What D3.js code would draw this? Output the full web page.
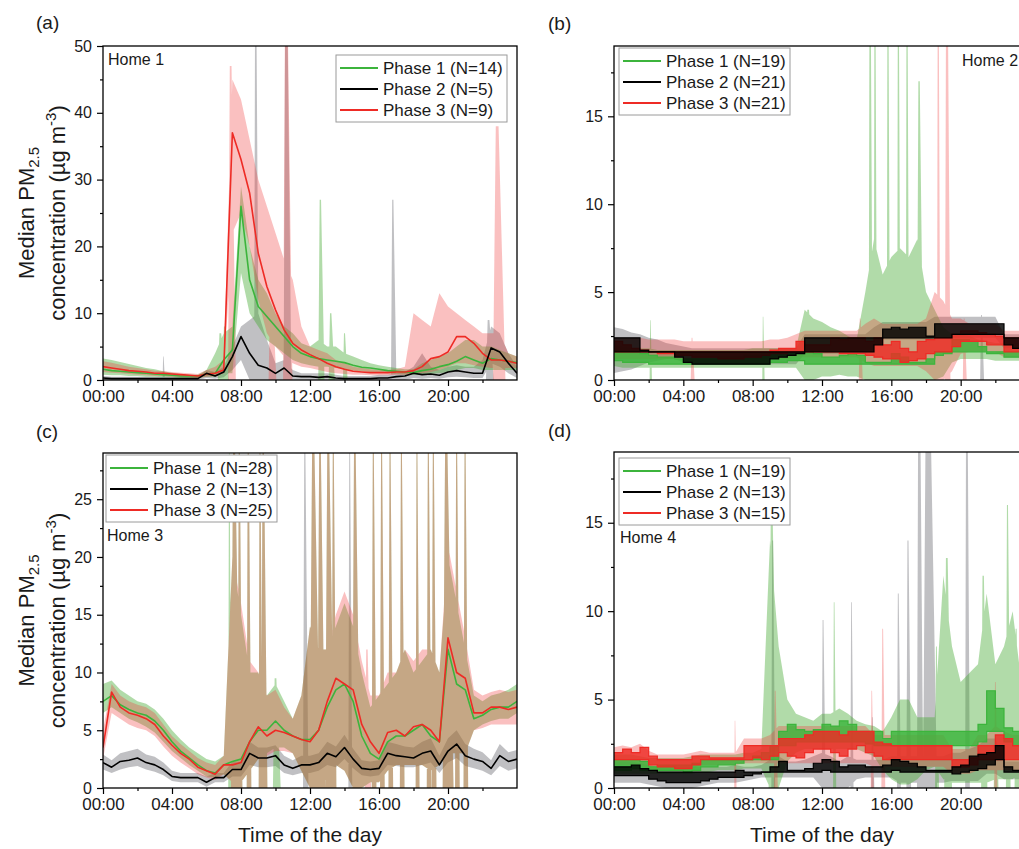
<!DOCTYPE html>
<html>
<head>
<meta charset="utf-8">
<script src="https://cdn.jsdelivr.net/npm/d3@7"></script>
<style>
  html, body { margin: 0; padding: 0; background: #fff; }
  svg { display: block; }
  text { font-family: "Liberation Sans", Arial, sans-serif; }
</style>
</head>
<body>
<svg id="chart" width="1019" height="849"></svg>
<script>
// ---------------- DATA ----------------
const HOURS = [0,0.5,1,1.5,2,2.5,3,3.5,4,4.5,5,5.5,6,6.5,7,7.5,8,8.5,9,9.5,10,10.5,11,11.5,12,12.5,13,13.5,14,14.5,15,15.5,16,16.5,17,17.5,18,18.5,19,19.5,20,20.5,21,21.5,22,22.5,23,23.5,24];
const X_TICKS = [0,4,8,12,16,20];
const X_TICK_LABELS = ["00:00","04:00","08:00","12:00","16:00","20:00"];
const X_MINOR = [2,6,10,14,18,22];

const A_YTICKS = [0,10,20,30,40,50];
const A_YMINOR = [5,15,25,35,45];
const B_YTICKS = [0,5,10,15];
const B_YMINOR = [2.5,7.5,12.5,17.5];
const C_YTICKS = [0,5,10,15,20,25];
const C_YMINOR = [2.5,7.5,12.5,17.5,22.5,27.5];
const D_YTICKS = [0,5,10,15];
const D_YMINOR = [2.5,7.5,12.5,17.5];

const A_LEGEND = ["Phase 1 (N=14)","Phase 2 (N=5)","Phase 3 (N=9)"];
const B_LEGEND = ["Phase 1 (N=19)","Phase 2 (N=21)","Phase 3 (N=21)"];
const C_LEGEND = ["Phase 1 (N=28)","Phase 2 (N=13)","Phase 3 (N=25)"];
const D_LEGEND = ["Phase 1 (N=19)","Phase 2 (N=13)","Phase 3 (N=15)"];

// ----- Home 1 (a): median lines + bands -----
const a_g_med = [1.6,1.4,1.3,1.2,1.1,1.0,0.9,0.8,0.7,0.6,0.6,0.6,
  0.9,1.0,3.0,4.5,26,15,11,9.5,8,6.5,5,4,
  3.5,3.2,3.0,2.8,2.6,2.2,1.9,1.8,1.6,1.4,1.3,1.2,
  1.1,1.4,1.6,2.0,2.3,2.8,3.5,3.0,2.5,3.2,3.0,2.8,2.6];
const a_gb_lo = [0.8,0.7,0.7,0.6,0.6,0.5,0.5,0.4,0.4,0.3,0.3,0.3,
  0.5,0.5,1.0,1.0,16,10,8,6,5,4,3,2.5,
  2.2,2.0,2.0,1.8,1.6,1.4,1.3,1.2,1.1,1.0,0.9,0.8,
  0.8,0.8,0.9,1.0,1.2,1.5,1.8,1.8,1.5,1.5,1.5,1.5,1.5];
const a_gb_hi = [3.2,3.0,2.7,2.4,2.1,1.8,1.6,1.3,1.1,0.9,0.8,0.8,
  1.5,4,7,8,29,20,15,13,10,8,7,5.5,
  5,6,5,5,4,3.5,3,2.5,2.2,2,1.8,1.6,
  1.6,2.5,3,3.5,4,5,6,6,5,5,4.5,4,3.5];
const a_r_med = [2.0,1.8,1.6,1.4,1.3,1.2,1.0,1.0,0.9,0.8,0.7,0.6,
  0.9,1.0,1.5,37,33,28,19,14,10.5,7.5,5.5,4.5,
  3.8,3.2,2.5,2.0,1.6,1.3,1.2,1.1,1.1,1.1,1.2,1.2,
  1.4,2.0,3.2,3.5,4.2,6.5,6.5,5.5,4.0,3.0,3.0,2.8,2.5];
const a_rb_lo = [1.2,1.1,1.0,0.9,0.8,0.7,0.6,0.6,0.5,0.5,0.4,0.3,
  0.5,0.6,1.0,22,25,20,12,7,5,3.5,2.5,2,
  1.8,1.5,1.2,1.0,0.9,0.8,0.8,0.7,0.7,0.7,0.8,0.8,
  0.9,1.0,1.2,1.5,2.0,2.5,2.5,2.2,2.0,1.8,1.8,1.8,1.8];
const a_rb_hi = [2.8,2.6,2.3,2.0,1.8,1.6,1.4,1.3,1.2,1.1,1.0,0.9,
  1.5,2.0,3.0,45,42,36,30,26,22,18,15,8,
  5,4.5,4,3,2.5,2,1.8,1.6,1.5,1.5,1.6,2,
  10,9,8,13,11,10,9,8,7,7,7,4,3.5];
const a_k_med = [0.3,0.2,0.2,0.2,0.2,0.2,0.2,0.2,0.2,0.2,0.2,0.2,
  1.0,0.6,1.2,3.5,6.5,4,2.2,1.8,1.0,1.8,0.6,0.5,
  0.5,0.4,0.5,0.3,0.2,0.2,0.2,0.2,0.3,0.3,0.5,0.6,
  1.0,0.8,0.9,0.7,1.2,1.4,1.2,1.0,1.0,4.8,4.2,2.5,1.0];
const a_kb_lo = [0,0,0,0,0,0,0,0,0,0,0,0,
  0.3,0.2,0.4,1.5,3,0,0,0,0,0,0,0,
  0,0,0,0,0,0,0,0,0,0,0,0,
  0.3,0.2,0.3,0.2,0.4,0.5,0.4,0.3,0.3,2.5,2,1,0.3];
const a_kb_hi = [0.6,0.5,0.5,0.5,0.5,0.5,0.5,0.5,0.5,0.5,0.5,0.5,
  1.5,1.2,2,5,8,9,10,6,2.5,3,1.5,1,
  1,1,1,0.8,0.6,0.6,0.6,0.6,0.8,0.8,1,1.2,
  2,4,2,1.5,2,2.2,2,2,3,8,7,4,2];
// spikes: [phase, hour, peak, half-width in hours]
const a_spikes = [["k",8.85,60,0.06],["k",10.62,60,0.1],["r",10.62,60,0.12],["g",12.6,27,0.08],
  ["g",13.2,10,0.08],["g",6.8,7,0.1],["k",16.8,27,0.07],["r",22.85,38,0.16],["k",22.35,9,0.1],
  ["r",9.75,14,0.1],["g",14.0,7,0.06],["k",3.5,3.5,0.03],["r",7.4,47,0.1],["g",7.05,8,0.08]];

// ----- Home 2 (b): median ranges + bands -----
const b_k_lo = [1.6,1.6,1.6,1.6,1.6,1.6,1.6,1.3,1.0,0.9,0.9,0.9,
  0.9,0.9,0.9,0.9,0.9,0.9,1.2,1.3,1.4,1.5,1.6,1.6,
  1.6,1.6,1.6,1.6,1.6,1.6,2.0,2.4,2.4,2.4,2.4,2.4,
  2.4,2.4,2.4,2.6,2.6,2.6,2.6,2.6,2.6,2.0,1.8,1.8,1.8];
const b_k_hi = [2.4,2.4,2.4,1.7,1.6,1.6,1.6,1.6,1.6,1.6,1.6,1.6,
  1.6,1.6,1.6,1.6,1.6,1.6,1.6,1.6,1.6,1.6,2.4,2.4,
  2.4,2.4,2.4,2.4,2.4,2.4,2.4,2.9,3.0,2.9,3.0,3.0,
  2.5,3.2,3.2,3.2,3.2,3.2,3.2,3.2,3.2,2.4,2.4,2.4,2.4];
const b_g_lo = [1.1,1.0,1.0,1.0,0.9,0.9,0.9,0.9,0.9,0.9,0.9,0.9,
  0.9,0.9,0.9,0.9,0.9,0.9,1.0,1.0,1.1,1.1,0.9,0.9,
  0.9,0.9,0.9,0.9,0.9,0.9,0.9,0.9,0.9,0.9,0.9,0.9,
  0.9,1.4,1.5,1.6,1.6,1.6,1.6,1.5,1.5,1.3,1.3,1.3,1.3];
const b_g_hi = [1.6,1.6,1.6,1.5,1.4,1.3,1.3,1.2,1.2,1.2,1.2,1.2,
  1.3,1.3,1.3,1.4,1.4,1.5,1.6,1.6,1.6,1.6,1.6,1.5,
  1.3,1.3,1.4,1.5,1.4,1.0,1.0,1.0,1.5,1.3,1.0,1.0,
  1.2,1.6,1.6,2.3,2.3,2.2,1.9,1.6,1.6,1.6,1.6,1.6,1.6];
const b_r_lo = [1.6,1.6,1.6,1.6,1.6,1.5,1.5,1.4,1.4,1.3,1.3,1.3,
  1.2,1.2,1.2,1.3,1.3,1.4,1.5,1.5,1.6,1.6,1.6,1.6,
  1.6,1.6,1.5,1.5,1.5,1.4,1.3,1.2,1.2,1.0,1.1,1.2,
  1.5,1.6,1.6,1.9,2.2,2.2,2.2,2.0,2.0,1.6,1.6,1.6,1.6];
const b_r_hi = [2.2,2.0,1.8,1.7,1.6,1.6,1.6,1.6,1.6,1.6,1.6,1.6,
  1.6,1.6,1.6,1.6,1.6,1.6,1.7,1.8,1.8,2.2,2.0,2.0,
  2.0,2.4,2.3,2.4,2.4,2.2,2.4,2.0,2.2,1.8,1.6,2.2,
  2.3,2.4,2.4,2.6,2.8,2.8,2.7,2.6,2.5,2.4,2.4,2.3,2.3];
const b_kb_lo = [0.4,0.5,0.6,0.8,1.0,1.1,1.2,1.2,1.0,0.9,0.9,0.9,
  0.9,0.9,0.9,0.9,0.9,0.9,0.9,0.9,0.9,0.9,1.5,1.5,
  1.5,1.5,1.5,1.5,1.5,1.5,2.0,2.3,2.3,2.3,2.3,2.3,
  2.3,2.4,2.4,2.4,2.4,2.4,2.4,2.4,2.4,1.8,1.8,1.8,1.8];
const b_kb_hi = [3.0,2.9,2.7,2.6,2.4,2.3,2.1,2.0,1.9,1.8,1.8,1.8,
  1.8,1.8,1.8,1.8,1.8,1.8,1.8,1.8,1.8,1.8,2.6,2.6,
  2.6,2.6,2.6,2.6,2.6,2.6,3.0,3.3,3.3,3.3,3.3,3.3,
  3.3,3.6,3.6,3.6,3.6,3.6,3.6,3.6,3.6,2.6,2.6,2.6,2.6];
const b_gb_lo = [0.8,0.7,0.7,0.7,0.7,0.7,0.7,0.7,0.7,0.7,0.7,0.7,
  0.7,0.7,0.7,0.7,0.7,0.7,0.7,0.7,0.7,0.7,0,0,
  0.2,0.2,0.3,0.2,0.2,0,0,0,0,0,0,0,
  0,0,0.2,1.0,1.2,1.2,1.2,1.2,1.1,1.1,1.1,1.1,1.1];
const b_gb_hi = [2.0,1.9,1.8,1.8,1.8,1.7,1.7,1.7,1.7,1.7,1.7,1.7,
  1.7,1.7,1.7,1.7,1.8,1.8,1.8,1.8,1.8,1.8,4.0,3.5,
  3.3,3.0,2.8,2.5,2.3,5,8,6,7,7.5,7,8,
  5,4,3,2.6,2.6,2.5,2.3,2.2,2.1,2.1,2.1,2.1,2.1];
const b_rb_lo = [1.2,1.2,1.2,1.2,1.2,1.2,1.2,1.2,1.2,1.2,1.2,1.2,
  1.2,1.2,1.2,1.2,1.2,1.2,1.2,1.2,1.2,1.3,1.3,1.3,
  1.3,1.3,1.3,1.3,1.3,1.0,0.8,0.8,0.8,0.8,0.8,0.8,
  0.5,0,0,0.5,1.5,1.6,1.6,1.6,1.6,1.3,1.3,1.3,1.3];
const b_rb_hi = [2.4,2.4,2.4,2.4,2.3,2.3,2.3,2.3,2.2,2.2,2.2,2.2,
  2.2,2.2,2.2,2.2,2.2,2.2,2.3,2.3,2.4,2.6,2.8,2.8,
  2.8,2.8,2.8,2.8,2.8,3.2,3.5,3.2,3.2,3.2,3.2,3.2,
  3.5,5,4.5,3.5,3.5,3.2,3.2,3.2,3.2,2.8,2.8,2.8,2.8];
const b_spikes = [["g",14.77,25,0.05],["g",15.05,25,0.04],["g",15.8,25,0.04],["g",16.4,25,0.04],
  ["g",16.9,25,0.04],["g",17.6,17,0.08],["g",11.2,4,0.1],["g",2.1,3.4,0.03],["g",8.6,3.6,0.03],
  ["r",18.7,25,0.04],["r",19.2,25,0.07],["r",14.2,3.5,0.05],["r",20.2,3.5,0.05],
  ["k",21.2,3.7,0.05],["r",4.5,2.4,0.05]];

// ----- Home 3 (c): median lines + bands -----
const c_g_med = [7.5,8.0,7.2,6.8,6.5,6.3,5.8,5.0,4.0,3.2,2.6,2.0,
  1.5,1.3,2.0,2.3,2.5,4.0,5.0,5.0,5.8,5.0,4.5,4.2,
  4.2,5.0,7.0,8.5,9.0,7.5,4.5,3.0,2.5,4.0,4.5,4.5,
  5.0,5.5,4.5,4.0,12,9.0,8.5,6.0,6.3,6.8,7.0,7.0,7.5];
const c_r_med = [3.5,8.3,7.0,6.5,6.3,6.0,5.5,4.5,3.7,3.0,2.5,1.8,
  1.5,1.2,2.0,2.0,2.2,4.0,5.3,4.5,5.0,4.8,4.5,4.2,
  4.0,5.0,7.5,9.5,9.0,8.5,5.5,4.0,3.0,4.8,5.0,4.5,
  5.3,5.5,5.0,4.0,13,10,9.5,6.5,6.5,7.0,7.0,6.8,7.0];
const c_k_med = [2.2,1.8,2.3,2.4,2.6,2.2,2.0,1.6,1.0,0.9,0.9,0.9,
  0.5,0.9,0.9,1.6,1.6,3.0,2.6,2.6,2.8,2.0,1.7,2.0,
  2.0,2.2,3.0,2.7,3.5,2.5,1.7,1.6,1.7,3.0,2.8,2.7,
  2.6,3.0,3.2,2.0,3.2,3.8,2.8,2.5,2.3,1.7,2.8,2.3,2.5];
const c_gb_lo = [6.5,7.0,6.5,6.0,5.7,5.3,4.8,4.0,3.2,2.6,2.0,1.5,
  1.0,0.9,1.2,0.5,0.5,1.5,2.5,3.0,3.5,3.5,3.0,1.5,
  0,0,1.0,2.0,1.5,0,0,0.5,0.5,1.5,2.0,2.0,
  2.0,2.0,1.5,2.0,3.0,3.0,3.0,5.0,5.5,5.8,6.0,6.0,6.5];
const c_gb_hi = [9.0,9.3,8.5,8.0,7.5,7.3,6.8,6.0,5.0,4.2,3.5,3.0,
  2.5,2.3,2.8,20,15,10,10,8,9,7.5,6,8,
  14,12,12,14,16,14,10,7,8,9,10,12,
  10,11,12,10,20,16,12,8,7.5,8,8.2,8.5,9];
const c_rb_lo = [2.5,6.5,6.0,5.5,5.2,5.0,4.5,3.6,2.8,2.2,1.7,1.2,
  0.9,0.7,1.2,0.5,0.5,1.5,2.5,2.8,3.2,3.2,3.0,1.5,
  0,0,1.0,2.0,1.5,0,0,0.5,0.5,1.5,2.0,2.0,
  2.0,2.0,1.5,2.0,3.0,3.0,3.0,5.0,5.2,5.5,5.5,5.5,5.5];
const c_rb_hi = [5.0,9.0,8.0,7.5,7.2,7.0,6.5,5.5,4.5,3.8,3.2,2.6,
  2.2,2.0,2.8,20,16,11,10,8,8.5,7,6,8,
  14,12,12,15,17,15,11,8,8,10,10,12,
  11,12,12,10,21,17,13,8.5,8,8.3,8.5,8.3,8.5];
const c_kb_lo = [1.6,1.3,1.6,1.8,1.9,1.6,1.4,1.1,0.6,0.5,0.5,0.5,
  0.1,0.5,0.5,1.0,1.0,2.0,1.8,1.8,1.9,1.3,1.1,1.3,
  1.3,1.5,2.0,1.8,2.5,1.7,1.1,1.0,1.1,2.0,1.9,1.8,
  1.8,2.0,2.2,1.3,2.2,2.6,1.9,1.7,1.5,1.1,1.9,1.5,1.7];
const c_kb_hi = [2.9,2.4,3.0,3.2,3.4,2.9,2.7,2.2,1.5,1.3,1.3,1.3,
  1.0,1.3,1.3,2.3,2.3,4.0,3.5,3.5,3.7,2.8,2.4,2.8,
  2.8,3.0,4.0,3.6,4.6,3.4,2.4,2.3,2.4,4.0,3.8,3.6,
  3.5,4.0,4.3,2.8,4.3,5.0,3.8,3.4,3.1,2.4,3.8,3.1,3.3];
const c_spikes = [["g",7.32,29,0.04],["t",7.6,29,0.12],["t",7.9,29,0.06],["t",8.42,29,0.06],
  ["t",9.1,29,0.05],["t",9.29,29,0.08],["k",11.7,29,0.07],["t",12.19,29,0.14],["t",12.58,29,0.1],
  ["t",13.06,29,0.12],["t",13.35,29,0.06],["k",14.3,29,0.05],["t",14.6,29,0.1],["t",15.67,29,0.06],
  ["t",16.15,29,0.06],["t",16.64,29,0.06],["t",17.3,29,0.06],["t",18.2,29,0.05],["t",18.86,29,0.06],
  ["t",19.15,29,0.06],["t",19.9,29,0.14],["t",20.5,29,0.06],["t",20.99,29,0.06],["g",10.0,9.5,0.1],
  ["r",15.3,12,0.08]];

// ----- Home 4 (d): median ranges + bands -----
const d_k_lo = [0.7,0.7,0.7,0.7,0.5,0.4,0.3,0.3,0.3,0.3,0.4,0.5,
  0.6,0.6,0.6,0.7,0.8,0.9,0.9,0.9,0.9,0.9,0.9,0.9,
  1.0,0.9,0.9,0.9,0.9,0.9,0.9,0.9,1.0,0.9,0.9,0.9,
  0.9,0.9,0.9,0.8,0.9,1.0,1.1,1.3,1.6,0.9,0.9,0.9,0.9];
const d_k_hi = [1.2,1.2,1.3,1.1,1.0,0.9,0.9,0.9,0.9,0.9,0.9,0.9,
  0.9,0.9,1.0,0.9,0.9,0.9,1.2,1.5,1.0,1.0,1.1,1.4,
  1.6,1.5,1.2,1.3,1.3,1.2,1.2,1.3,1.6,1.5,1.4,1.2,
  1.0,1.0,1.0,1.2,1.3,1.8,1.9,2.0,2.4,1.2,1.0,1.0,1.0];
const d_g_lo = [1.0,1.0,1.1,1.0,1.0,1.0,1.0,1.0,0.9,1.0,1.2,1.2,
  1.3,1.3,1.4,1.6,1.6,1.6,1.6,2.4,2.4,2.6,2.6,2.6,
  2.6,2.6,2.6,2.6,2.6,2.5,2.4,2.4,2.4,2.4,2.4,2.4,
  2.4,2.4,2.4,2.4,2.4,2.4,2.6,3.2,3.2,2.6,2.4,2.4,2.4];
const d_g_hi = [1.6,1.6,1.6,1.5,1.2,1.3,1.3,1.3,1.3,1.4,1.6,1.6,
  1.6,1.6,1.6,1.6,1.8,2.0,2.4,3.2,3.6,3.3,3.2,3.3,
  3.6,3.5,3.8,3.6,3.2,3.2,3.2,2.8,3.2,3.2,3.2,3.2,
  3.2,3.2,3.2,3.2,3.2,3.2,3.6,5.5,4.5,3.4,3.2,3.2,3.2];
const d_r_lo = [1.6,1.6,1.6,1.6,1.3,1.2,1.2,1.1,1.1,1.3,1.6,1.6,
  1.6,1.6,1.6,1.6,1.7,1.6,1.8,2.0,1.8,1.7,2.0,2.2,
  2.2,2.0,1.8,2.2,2.4,2.0,1.8,1.6,1.6,1.6,1.6,1.6,
  1.6,1.6,1.6,1.2,1.2,1.3,1.6,1.6,1.6,1.6,1.6,1.6,1.6];
const d_r_hi = [2.0,2.2,2.0,2.3,1.8,1.6,1.6,1.6,1.6,1.8,1.8,1.7,
  1.7,1.7,1.7,2.4,2.4,2.4,2.4,2.8,2.8,2.8,3.0,3.2,
  3.2,3.2,3.0,3.2,3.2,3.2,2.6,2.5,2.4,2.4,2.4,2.4,
  2.4,2.4,2.4,1.6,1.6,1.7,2.4,2.4,3.0,2.8,2.4,2.4,2.4];
const d_gb_lo = [0.8,0.8,0.8,0.8,0.8,0.8,0.8,0.8,0.8,0.8,0.9,0.9,
  1.0,1.0,1.0,1.1,1.1,1.1,0,0,1.5,2.0,2.2,2.2,
  2.2,2.2,2.2,2.2,2.2,2.0,1.8,1.0,0.5,0.2,0.2,0.5,
  1.0,1.2,0.5,0.3,0.3,0.3,0.3,0.3,0.5,0.5,0.5,1.0,1.0];
const d_gb_hi = [1.9,1.9,1.9,1.8,1.7,1.7,1.7,1.7,1.7,1.8,1.9,1.9,
  1.9,1.9,1.9,2.0,2.0,2.2,14,8,5,4.2,4.0,3.8,
  4.2,4.2,4.5,4.2,3.8,3.6,3.5,3.2,4,5,5,4,
  4,4,12,8,6,6.5,7,11,7,8,10,6,5];
const d_rb_lo = [1.3,1.3,1.3,1.3,1.1,1.0,1.0,1.0,1.0,1.1,1.3,1.3,
  1.3,1.3,1.3,1.4,1.4,1.4,1.4,1.4,1.4,1.4,1.4,1.4,
  1.4,1.4,1.4,1.4,1.4,1.4,1.2,1.2,1.2,1.2,1.2,1.2,
  1.2,1.2,1.2,0.8,0.8,0.8,1.0,1.0,1.0,1.0,1.0,1.0,1.0];
const d_rb_hi = [2.3,2.4,2.3,2.5,2.1,1.9,1.9,1.9,1.9,2.0,2.1,2.0,
  2.0,2.0,2.0,2.8,2.8,2.8,3.0,3.5,3.5,3.5,3.5,3.5,
  3.5,3.5,3.5,3.5,3.5,3.5,3.0,3.0,3.0,3.0,3.0,3.0,
  3.0,3.0,3.0,2.2,2.2,2.2,3.0,3.0,3.5,3.2,3.0,3.0,3.0];
const d_kb_lo = [0.3,0.3,0.3,0.3,0.2,0.1,0,0,0,0,0.1,0.2,
  0.3,0.3,0.3,0.4,0.5,0.6,0.6,0.6,0.6,0.6,0.6,0.6,
  0,0,0,0,0.5,0.6,0.6,0.6,0.6,0.3,0.3,0.3,
  0.3,0.3,0.3,0.4,0.4,0.4,0.4,0.8,0.8,0.5,0.5,0.5,0.5];
const d_kb_hi = [1.5,1.5,1.5,1.4,1.3,1.2,1.2,1.2,1.2,1.2,1.2,1.2,
  1.2,1.2,1.3,1.2,1.2,1.3,1.6,1.8,1.5,1.5,1.6,1.8,
  2.0,1.8,1.5,1.8,1.6,1.6,1.6,1.6,1.8,1.8,1.8,1.8,
  1.8,1.8,1.8,2.0,2.0,2.2,2.4,2.8,2.8,1.5,1.5,1.5,1.5];
const d_spikes = [["g",9.1,15,0.12],["k",9.15,14,0.05],["r",9.3,5.5,0.05],["k",12.06,9.5,0.05],
  ["k",13.7,10.5,0.04],["r",14.87,5.5,0.04],["r",15.5,9,0.05],["k",16.4,11,0.05],["k",16.96,14,0.06],
  ["k",17.6,25,0.08],["k",18.1,25,0.18],["k",20.35,25,0.06],["r",6.98,3.8,0.03],["g",19.2,13,0.1],
  ["g",21.3,12,0.08],["g",22.0,7,0.06],["g",22.7,16,0.06],["g",23.2,9,0.06],["r",22.0,6,0.04],
  ["k",14.9,4,0.04],["g",12.7,10.5,0.04],["g",18.6,8,0.05]];

// ---------------- STYLE ----------------
const LINE = {g:"#3cb43c", k:"#000000", r:"#ee2b25"};
const BAND = {g:"rgba(70,170,50,0.42)", k:"rgba(105,105,112,0.42)", r:"rgba(240,60,60,0.32)"};
const FONT = '"Liberation Sans", Arial, sans-serif';

const PANELS = [
  {id:"a", letter:"(a)", lx:36, ly:29, box:[103,46,517,380], ymax:50, yt:A_YTICKS, ym:A_YMINOR, mode:"line",
   med:{g:a_g_med, r:a_r_med, k:a_k_med},
   band:{g:[a_gb_lo,a_gb_hi], r:[a_rb_lo,a_rb_hi], k:[a_kb_lo,a_kb_hi]}, spikes:a_spikes,
   legend:{x:336, y:55, names:A_LEGEND}, home:{t:"Home 1", x:108, y:65}, ytitle:true, xtitle:false},
  {id:"b", letter:"(b)", lx:548, ly:30, box:[614,46,1030,380], ymax:19, yt:B_YTICKS, ym:B_YMINOR, mode:"env",
   env:{g:[b_g_lo,b_g_hi], r:[b_r_lo,b_r_hi], k:[b_k_lo,b_k_hi]},
   band:{g:[b_gb_lo,b_gb_hi], r:[b_rb_lo,b_rb_hi], k:[b_kb_lo,b_kb_hi]}, spikes:b_spikes,
   legend:{x:619, y:48, names:B_LEGEND}, home:{t:"Home 2", x:962, y:66}, ytitle:false, xtitle:false},
  {id:"c", letter:"(c)", lx:36, ly:438, box:[103,453,517,788], ymax:29, yt:C_YTICKS, ym:C_YMINOR, mode:"line",
   med:{g:c_g_med, r:c_r_med, k:c_k_med},
   band:{g:[c_gb_lo,c_gb_hi], r:[c_rb_lo,c_rb_hi], k:[c_kb_lo,c_kb_hi]}, spikes:c_spikes,
   legend:{x:106, y:455, names:C_LEGEND}, home:{t:"Home 3", x:107, y:541}, ytitle:true, xtitle:true},
  {id:"d", letter:"(d)", lx:548, ly:437, box:[614,452,1030,788], ymax:19, yt:D_YTICKS, ym:D_YMINOR, mode:"env",
   env:{g:[d_g_lo,d_g_hi], r:[d_r_lo,d_r_hi], k:[d_k_lo,d_k_hi]},
   band:{g:[d_gb_lo,d_gb_hi], r:[d_rb_lo,d_rb_hi], k:[d_kb_lo,d_kb_hi]}, spikes:d_spikes,
   legend:{x:619, y:458, names:D_LEGEND}, home:{t:"Home 4", x:620, y:543}, ytitle:false, xtitle:true}
];

const svg = d3.select("#chart");
const defs = svg.append("defs");

PANELS.forEach(p => {
  const [l,t,r,b] = p.box;
  const x = d3.scaleLinear().domain([0,24]).range([l,r]);
  const y = d3.scaleLinear().domain([0,p.ymax]).range([b,t]);
  const g = svg.append("g");

  defs.append("clipPath").attr("id","clip-"+p.id)
    .append("rect").attr("x",l).attr("y",t).attr("width",r-l).attr("height",b-t);
  const plot = g.append("g").attr("clip-path","url(#clip-"+p.id+")");

  const rows = (arrs) => HOURS.map((h,i)=>({h, a:arrs[0][i], b:arrs[1][i]}));
  const bandArea = d3.area().x(d=>x(d.h)).y0(d=>y(d.a)).y1(d=>y(d.b)).curve(d3.curveLinear);

  function spikePath(s){
    const [,h,peak,w] = s;
    const pts = [[h-1.5*w,0],[h-0.5*w,peak],[h+0.5*w,peak],[h+3*w,0]];
    return d3.line().x(d=>x(d[0])).y(d=>y(d[1]))(pts) + "Z";
  }

  // bands (gray, green, red): band area and its spikes merged into one path (single alpha)
  ["k","g","r"].forEach(k => {
    let dstr = bandArea(rows(p.band[k]));
    p.spikes.filter(s => s[0]===k || (s[0]==="t" && (k==="g"||k==="r")))
      .forEach(s => { dstr += spikePath(s); });
    plot.append("path").attr("d",dstr).attr("fill",BAND[k]).attr("fill-rule","nonzero").attr("stroke","none");
  });

  // medians
  ["g","r","k"].forEach(k => {
    if (p.mode==="line") {
      const ln = d3.line().x((d,i)=>x(HOURS[i])).y(d=>y(d));
      plot.append("path").datum(p.med[k]).attr("d",ln).attr("fill","none")
        .attr("stroke",LINE[k]).attr("stroke-width",1.6).attr("stroke-linejoin","round");
    } else {
      const data = rows(p.env[k]);
      const ar = d3.area().x(d=>x(d.h)).y0(d=>y(d.a)).y1(d=>y(d.b)).curve(d3.curveStepAfter);
      plot.append("path").datum(data).attr("d",ar).attr("fill",LINE[k]).attr("fill-opacity",0.82);
      const l0 = d3.line().x(d=>x(d.h)).y(d=>y(d.a)).curve(d3.curveStepAfter);
      const l1 = d3.line().x(d=>x(d.h)).y(d=>y(d.b)).curve(d3.curveStepAfter);
      plot.append("path").datum(data).attr("d",l0).attr("fill","none").attr("stroke",LINE[k]).attr("stroke-width",1.2);
      plot.append("path").datum(data).attr("d",l1).attr("fill","none").attr("stroke",LINE[k]).attr("stroke-width",1.2);
    }
  });

  // axes
  const xa = g.append("g").attr("transform",`translate(0,${b})`)
    .call(d3.axisBottom(x).tickValues(X_TICKS).tickFormat((d,i)=>X_TICK_LABELS[i]).tickSize(6).tickPadding(4));
  xa.selectAll("text").attr("font-size",17).attr("font-family",FONT).attr("fill","#1a1a1a");
  const xm = g.append("g").attr("transform",`translate(0,${b})`)
    .call(d3.axisBottom(x).tickValues(X_MINOR).tickFormat("").tickSize(3));
  const ya = g.append("g").attr("transform",`translate(${l},0)`)
    .call(d3.axisLeft(y).tickValues(p.yt).tickFormat(d3.format("d")).tickSize(6).tickPadding(5));
  ya.selectAll("text").attr("font-size",16).attr("font-family",FONT).attr("fill","#1a1a1a");
  const ymn = g.append("g").attr("transform",`translate(${l},0)`)
    .call(d3.axisLeft(y).tickValues(p.ym).tickFormat("").tickSize(3));
  [xa,xm,ya,ymn].forEach(s => { s.select(".domain").remove(); s.selectAll("line").attr("stroke","#000").attr("stroke-width",1.2); });

  g.append("rect").attr("x",l).attr("y",t).attr("width",r-l).attr("height",b-t)
    .attr("fill","none").attr("stroke","#000").attr("stroke-width",1.3);

  // legend
  const L = p.legend;
  const lg = g.append("g").attr("transform",`translate(${L.x},${L.y})`);
  lg.append("rect").attr("width",171).attr("height",67).attr("fill","#fff").attr("stroke","#9a9a9a").attr("stroke-width",1);
  ["g","k","r"].forEach((k,i) => {
    const yy = 13 + i*21;
    lg.append("line").attr("x1",4).attr("x2",42).attr("y1",yy).attr("y2",yy)
      .attr("stroke",LINE[k]).attr("stroke-width",2);
    lg.append("text").attr("x",47).attr("y",yy).attr("dy","0.36em")
      .attr("font-size",17).attr("font-family",FONT).attr("fill","#1a1a1a").text(L.names[i]);
  });

  // home label
  g.append("text").attr("x",p.home.x).attr("y",p.home.y).attr("font-size",16)
    .attr("font-family",FONT).attr("fill","#1a1a1a").text(p.home.t);

  // panel letter
  g.append("text").attr("x",p.lx).attr("y",p.ly).attr("font-size",19)
    .attr("font-family",FONT).attr("fill","#1a1a1a").text(p.letter);

  // y title
  if (p.ytitle) {
    const cy = (t+b)/2;
    const t1 = g.append("text").attr("transform",`translate(34,${cy}) rotate(-90)`)
      .attr("text-anchor","middle").attr("font-size",22).attr("font-family",FONT).attr("fill","#1a1a1a");
    t1.append("tspan").text("Median PM");
    t1.append("tspan").attr("font-size",15).attr("dy",5).text("2.5");
    const t2 = g.append("text").attr("transform",`translate(65,${cy}) rotate(-90)`)
      .attr("text-anchor","middle").attr("font-size",22).attr("font-family",FONT).attr("fill","#1a1a1a");
    t2.append("tspan").text("concentration (µg m");
    t2.append("tspan").attr("font-size",15).attr("dy",-9).text("-3");
    t2.append("tspan").attr("dy",9).text(")");
  }
  if (p.xtitle) {
    g.append("text").attr("x",(l+r)/2).attr("y",842).attr("text-anchor","middle")
      .attr("font-size",21).attr("font-family",FONT).attr("fill","#1a1a1a").text("Time of the day");
  }
});
</script>
</body>
</html>
